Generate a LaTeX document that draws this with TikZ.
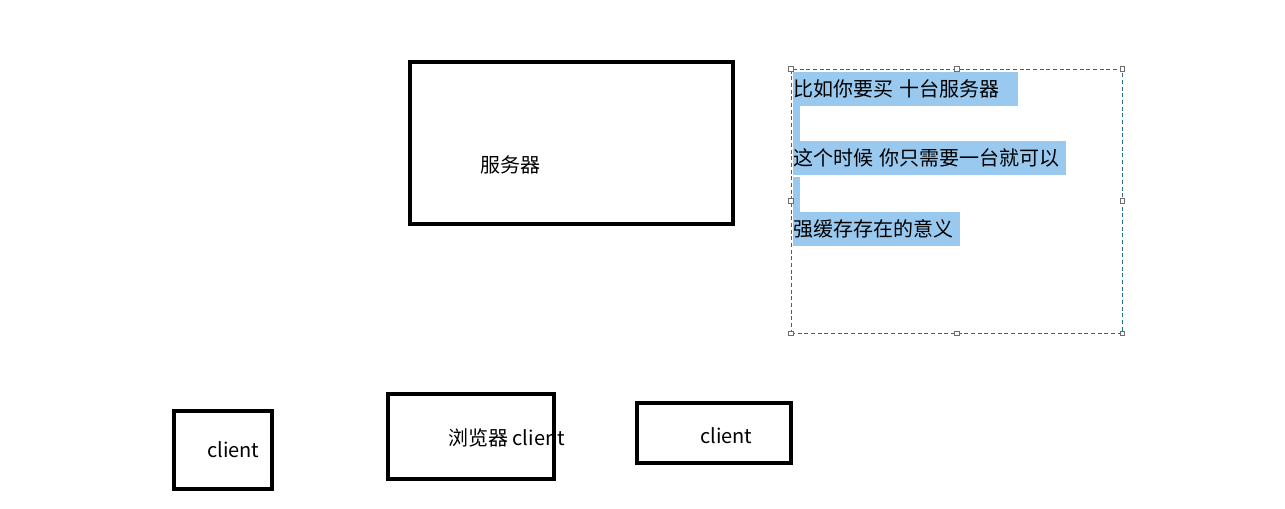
\documentclass[tikz,border=0pt]{standalone}
\usepackage{fontspec}
\newfontfamily\cjk{Noto Sans CJK SC}
\definecolor{selblue}{RGB}{153,201,239}
\definecolor{framecol}{RGB}{30,110,140}
\definecolor{handlecol}{RGB}{110,110,110}

\begin{document}
\begin{tikzpicture}[x=0.75pt,y=0.75pt,yscale=-1,xscale=1,
  box/.style={draw, line width=3pt, inner sep=0pt, outer sep=0pt},
  lbl/.style={anchor=west, inner sep=0.75pt, font=\cjk\fontsize{15}{18}\selectfont},
  selline/.style={anchor=north west, fill=selblue, inner sep=0pt, minimum height=25.5pt, align=left, font=\cjk\fontsize{15}{18}\selectfont},
  handle/.style={draw=handlecol, fill=white, line width=0.5pt, inner sep=0pt, minimum size=3.5pt}]
%set diagram to the size of the reference
\useasboundingbox (0,0) rectangle (1285,509);

%Shape: Rectangle [server]
\node (server) [box, minimum width=242.25pt, minimum height=121.5pt] at (571.5,143) {};
%Shape: Rectangle [client left]
\node (clientA) [box, minimum width=73.5pt, minimum height=58.5pt] at (223,450) {};
%Shape: Rectangle [browser client]
\node (browser) [box, minimum width=124.5pt, minimum height=63.75pt] at (471,436.5) {};
%Shape: Rectangle [client right]
\node (clientB) [box, minimum width=115.5pt, minimum height=45pt] at (714,433) {};

%Shape: Rectangle [note, selected]
\node (note) [draw=framecol, line width=0.6pt, dash pattern={on 3pt off 2pt}, inner sep=0pt, minimum width=248.25pt, minimum height=198pt] at (956.5,201) {};

% Selected text lines
\node (lineA) [selline, text width=168.75pt] at (793,72) {比如你要买 十台服务器};
\fill [selblue] (793,106) rectangle (800,141);
\node (lineB) [selline, text width=204.75pt] at (793,141) {这个时候 你只需要一台就可以};
\fill [selblue] (793,177) rectangle (800,212);
\node (lineC) [selline, text width=125.25pt] at (793,212) {强缓存存在的意义};

% handles of the note
\foreach \a in {north west,north,north east,east,south east,south,south west,west}
  \node [handle] at (note.\a) {};

% Text Node
\node (serverlbl) [lbl] at (479,165) {服务器};
% Text Node
\node (clientAlbl) [lbl] at (206,450) {client};
% Text Node
\node (browserlbl) [lbl] at (447,438) {浏览器 client};
% Text Node
\node (clientBlbl) [lbl] at (699,436) {client};

\end{tikzpicture}
\end{document}
